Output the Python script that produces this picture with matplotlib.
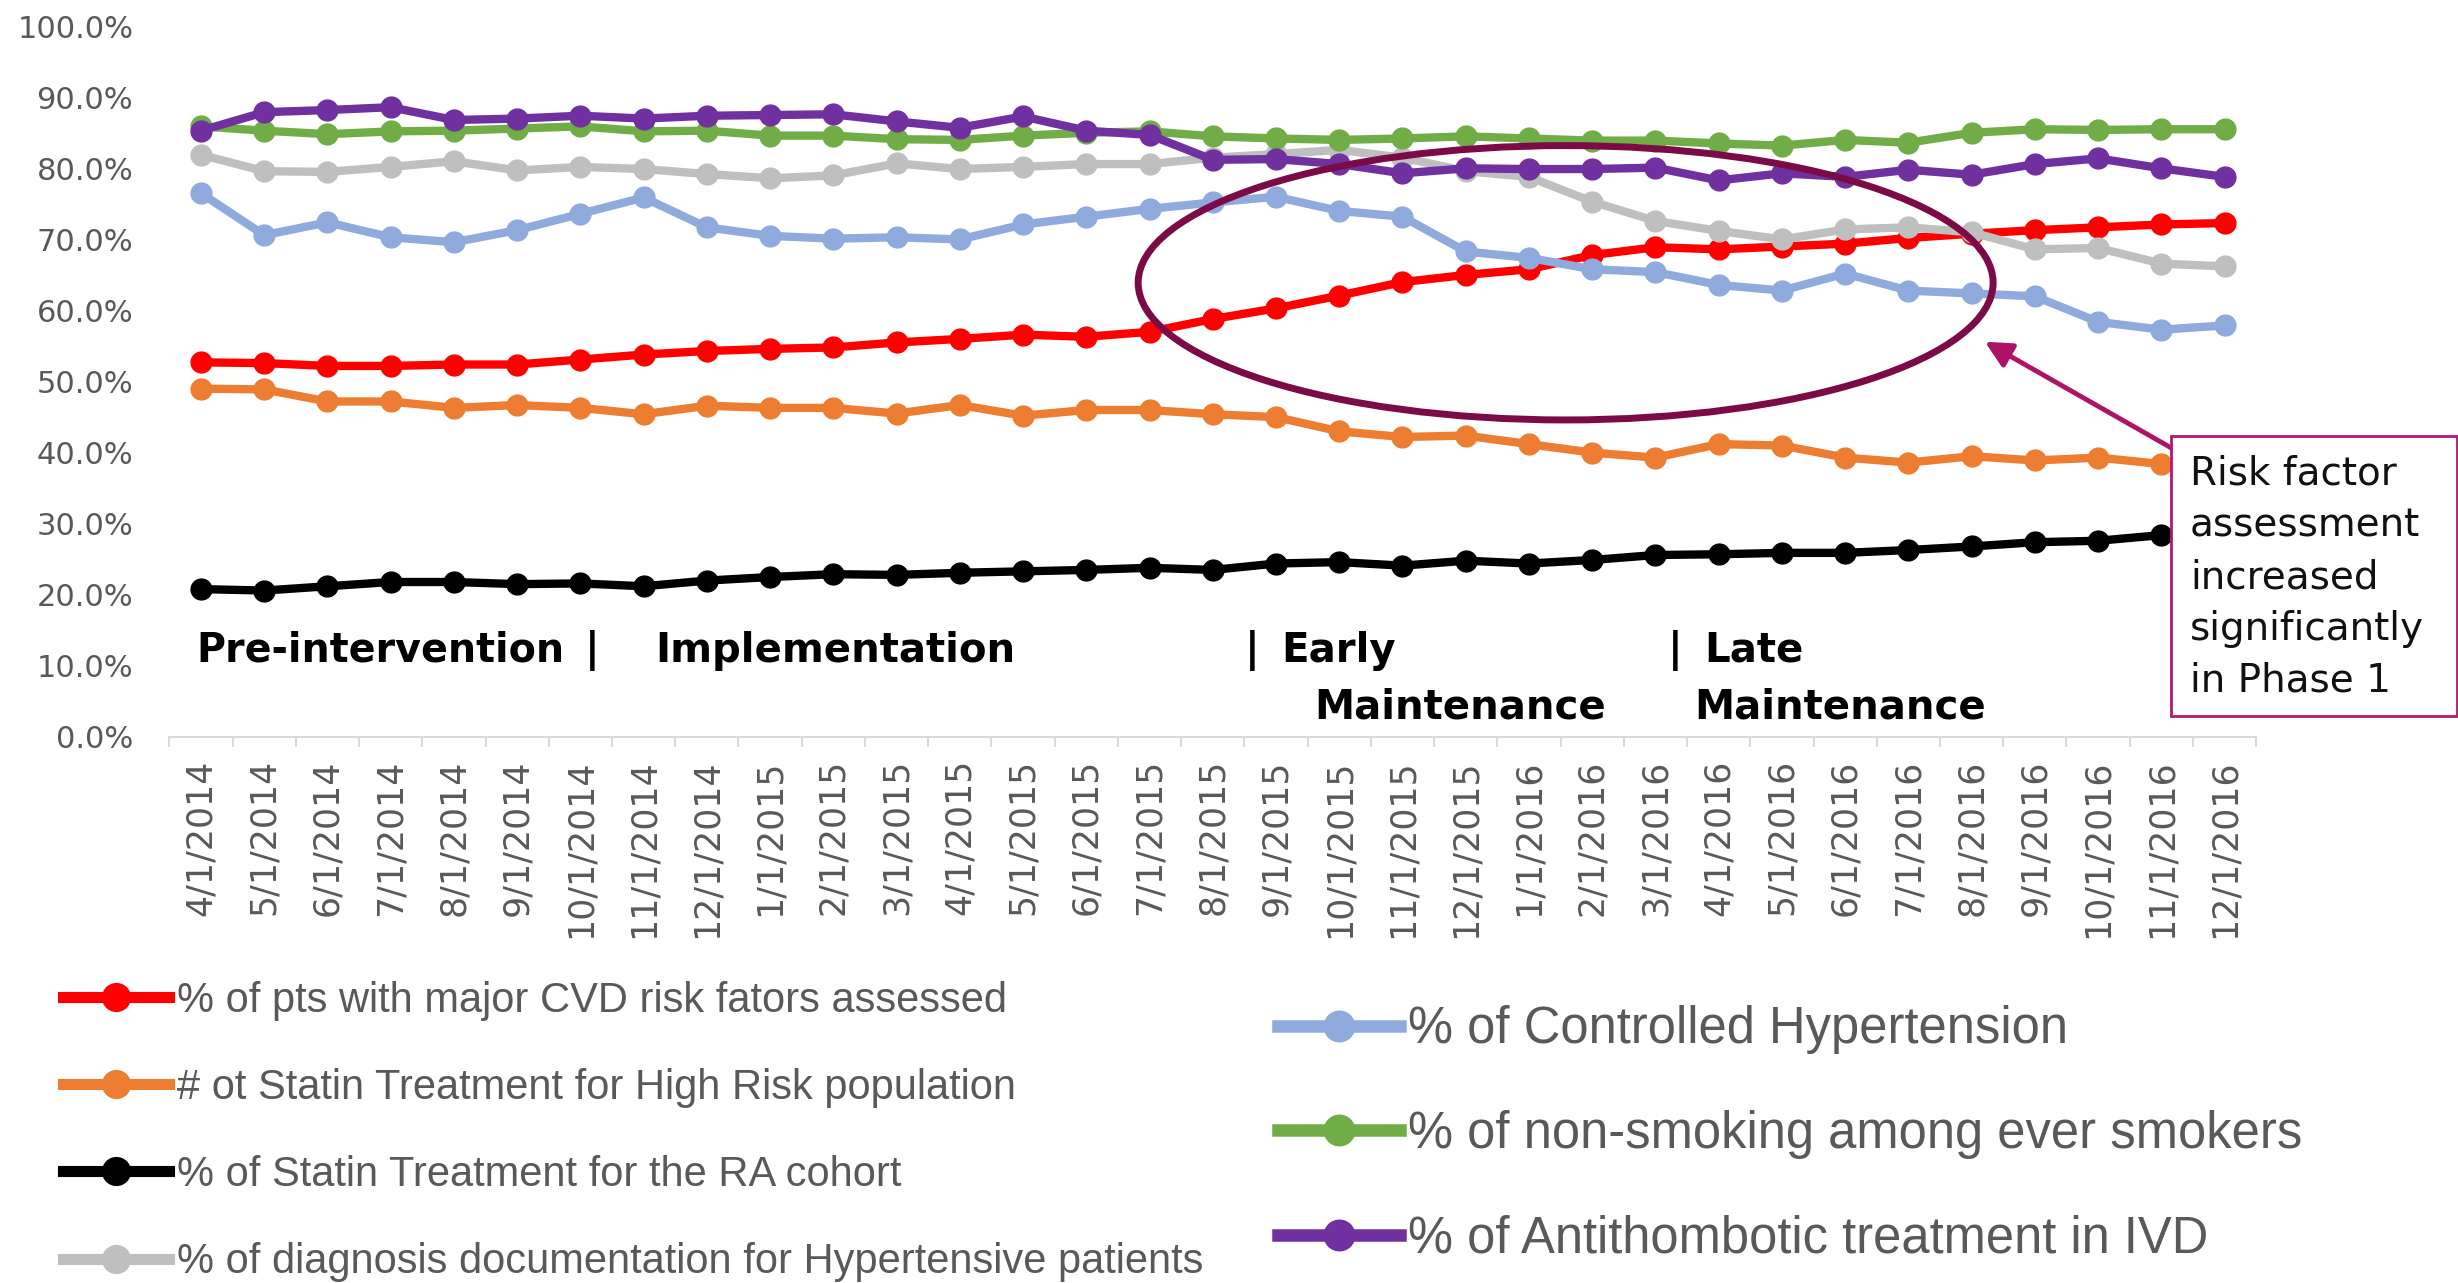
import matplotlib
matplotlib.use("Agg")
import matplotlib.pyplot as plt
import numpy as np
from matplotlib.lines import Line2D
from matplotlib.patches import Ellipse, Rectangle
from matplotlib.ticker import FuncFormatter

# monthly reporting dates (x axis)
dates = ["4/1/2014", "5/1/2014", "6/1/2014", "7/1/2014", "8/1/2014", "9/1/2014",
         "10/1/2014", "11/1/2014", "12/1/2014", "1/1/2015", "2/1/2015", "3/1/2015",
         "4/1/2015", "5/1/2015", "6/1/2015", "7/1/2015", "8/1/2015", "9/1/2015",
         "10/1/2015", "11/1/2015", "12/1/2015", "1/1/2016", "2/1/2016", "3/1/2016",
         "4/1/2016", "5/1/2016", "6/1/2016", "7/1/2016", "8/1/2016", "9/1/2016",
         "10/1/2016", "11/1/2016", "12/1/2016"]

# values in percent
risk_assessed = [52.7, 52.6, 52.2, 52.2, 52.4, 52.4, 53.1, 53.8, 54.3, 54.6, 54.8,
                 55.5, 56.0, 56.6, 56.3, 57.0, 58.8, 60.3, 62.1, 64.0, 65.0, 65.8,
                 67.8, 68.9, 68.6, 69.0, 69.4, 70.2, 70.8, 71.3, 71.7, 72.1, 72.3]
statin_high_risk = [49.0, 48.9, 47.2, 47.2, 46.3, 46.7, 46.3, 45.4, 46.6, 46.3, 46.3,
                    45.5, 46.7, 45.2, 46.0, 46.0, 45.4, 45.0, 43.0, 42.2, 42.4, 41.2,
                    40.0, 39.3, 41.2, 41.0, 39.3, 38.6, 39.5, 38.9, 39.3, 38.4, 38.0]
statin_ra = [20.8, 20.6, 21.2, 21.8, 21.8, 21.5, 21.6, 21.2, 22.0, 22.5, 22.9,
             22.8, 23.1, 23.3, 23.5, 23.8, 23.5, 24.4, 24.6, 24.1, 24.8, 24.4,
             24.9, 25.6, 25.7, 25.9, 25.9, 26.3, 26.8, 27.4, 27.6, 28.4, 28.8]
dx_documentation = [81.9, 79.6, 79.5, 80.2, 81.0, 79.7, 80.2, 79.9, 79.2, 78.6, 79.0,
                    80.7, 79.9, 80.2, 80.6, 80.6, 81.5, 82.0, 82.6, 81.5, 79.6, 78.8,
                    75.3, 72.6, 71.2, 70.0, 71.4, 71.7, 71.0, 68.6, 68.8, 66.6, 66.2]
controlled_htn = [76.5, 70.6, 72.4, 70.3, 69.6, 71.3, 73.6, 75.9, 71.7, 70.5, 70.1,
                  70.3, 70.0, 72.1, 73.2, 74.3, 75.2, 76.0, 74.0, 73.2, 68.3, 67.4,
                  65.8, 65.4, 63.6, 62.8, 65.2, 62.8, 62.4, 62.0, 58.4, 57.3, 57.9]
non_smoking = [85.9, 85.3, 84.8, 85.2, 85.3, 85.6, 85.9, 85.2, 85.3, 84.6, 84.6,
               84.1, 84.0, 84.6, 85.0, 85.2, 84.5, 84.2, 84.0, 84.2, 84.5, 84.2,
               83.9, 83.9, 83.5, 83.2, 84.0, 83.6, 85.0, 85.5, 85.4, 85.5, 85.5]
antithrombotic = [85.3, 87.9, 88.2, 88.6, 86.8, 87.0, 87.4, 87.0, 87.4, 87.5, 87.6,
                  86.6, 85.7, 87.3, 85.3, 84.7, 81.2, 81.3, 80.6, 79.3, 80.0, 79.9,
                  79.9, 80.1, 78.3, 79.3, 78.8, 79.8, 79.1, 80.6, 81.4, 80.0, 78.8]

series = [
    ("% of pts with major CVD risk fators assessed", risk_assessed, "#FF0000"),
    ("# ot Statin Treatment for High Risk population", statin_high_risk, "#ED7D31"),
    ("% of Statin Treatment for the RA cohort", statin_ra, "#000000"),
    ("% of diagnosis documentation for Hypertensive patients", dx_documentation, "#BFBFBF"),
    ("% of Controlled Hypertension", controlled_htn, "#8FAADC"),
    ("% of non-smoking among ever smokers", non_smoking, "#70AD47"),
    ("% of Antithombotic treatment in IVD", antithrombotic, "#7030A0"),
]

fig = plt.figure(figsize=(24.58, 12.83), dpi=100)
ax = fig.add_axes([0.0689, 0.4256, 0.849, 0.554])

x = np.arange(len(dates))
for name, vals, col in series:
    ax.plot(x, np.array(vals) / 100, color=col, lw=6, marker="o", ms=15,
            solid_capstyle="round", solid_joinstyle="round")

ax.set_xlim(-0.5, len(dates) - 0.5)
ax.set_ylim(0, 1.0)
ax.set_yticks([i / 10 for i in range(11)])
ax.yaxis.set_major_formatter(FuncFormatter(lambda v, p: f"{v * 100:.1f}%"))
ax.tick_params(axis="y", length=0, pad=26, labelsize=22, labelcolor="#595959")
ax.set_xticks(x)
ax.set_xticklabels(dates, rotation=90)
ax.tick_params(axis="x", length=0, pad=16, labelsize=25, labelcolor="#595959")
ax.set_xticks(np.arange(-0.5, len(dates)), minor=True)
ax.tick_params(axis="x", which="minor", length=7, width=1.5, color="#D9D9D9")
for s in ["top", "right", "left"]:
    ax.spines[s].set_visible(False)
ax.spines["bottom"].set_color("#D9D9D9")
ax.spines["bottom"].set_linewidth(1.5)

# phase labels
bold = dict(fontsize=29, fontweight="bold", color="black", va="center")
ax.text(-0.07, 0.121, "Pre-intervention", fontsize=28.5, fontweight="bold",
        color="black", va="center")
ax.text(6.18, 0.121, "|", ha="center", **bold)
ax.text(7.19, 0.121, "Implementation", **bold)
ax.text(16.62, 0.121, "|", ha="center", **bold)
ax.text(17.09, 0.121, "Early", **bold)
ax.text(17.61, 0.042, "Maintenance", **bold)
ax.text(23.32, 0.121, "|", ha="center", **bold)
ax.text(23.77, 0.121, "Late", **bold)
ax.text(23.62, 0.042, "Maintenance", **bold)

# highlight ellipse and arrow
ax.add_patch(Ellipse((21.58, 0.639), 13.52, 0.386, fill=False,
                     edgecolor="#7B0A46", lw=5, zorder=5))
ax.annotate("", xy=(28.21, 0.556), xytext=(31.19, 0.405),
            arrowprops=dict(arrowstyle="-|>", color="#AE1368", lw=3.5,
                            mutation_scale=40, shrinkA=0, shrinkB=0),
            annotation_clip=False, zorder=6)

# callout box
fig.patches.append(Rectangle((0.8833, 0.4416), 0.1162, 0.2187, transform=fig.transFigure,
                             facecolor="white", edgecolor="#B4186E", lw=2, zorder=10))
fig.text(0.891, 0.5502, "Risk factor\nassessment\nincreased\nsignificantly\nin Phase 1",
         fontsize=28, color="#111111", va="center", ha="left", linespacing=1.46, zorder=11)

# legends
def handles(items, lw, ms):
    return [Line2D([], [], color=c, lw=lw, marker="o", ms=ms) for _, _, c in items]

left = series[:4]
right = series[4:]
fig.legend(handles(left, 8, 20), [n for n, _, _ in left], loc="upper left",
           bbox_to_anchor=(0.0255, 0.2355), frameon=False,
           prop={"family": "Liberation Sans", "size": 30}, labelcolor="#595959",
           handlelength=2.56, handletextpad=0.19, labelspacing=1.13,
           borderpad=0, borderaxespad=0)
fig.legend(handles(right, 9, 22), [n for n, _, _ in right], loc="upper left",
           bbox_to_anchor=(0.5198, 0.2164), frameon=False,
           prop={"family": "Liberation Sans", "size": 36.5}, labelcolor="#595959",
           handlelength=2.41, handletextpad=0.16, labelspacing=1.10,
           borderpad=0, borderaxespad=0)

fig.savefig("out.png", dpi=100)
